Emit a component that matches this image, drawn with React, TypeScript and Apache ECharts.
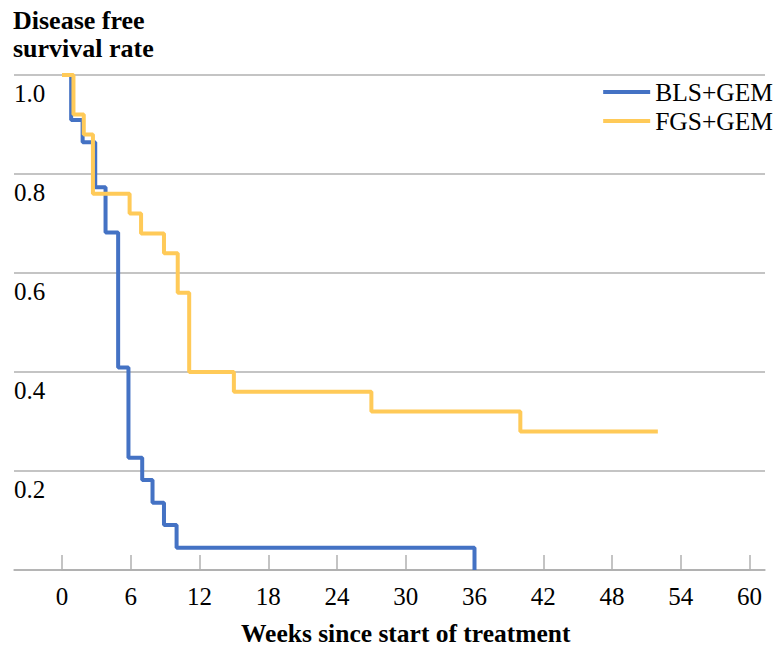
import React, { useEffect, useRef } from "react";
import * as echarts from "echarts";

const blsWeeks = [0, 0.8, 1.8, 2.9, 3.8, 4.9, 5.8, 7, 7.9, 8.9, 10, 36];
const blsSurvival = [1, 0.909, 0.864, 0.773, 0.682, 0.409, 0.227, 0.182, 0.136, 0.091, 0.045, 0];
const fgsWeeks = [0, 1, 1.9, 2.7, 5.9, 6.9, 8.9, 10.1, 11.1, 15, 27, 40, 52];
const fgsSurvival = [1, 0.92, 0.88, 0.76, 0.72, 0.68, 0.64, 0.56, 0.4, 0.36, 0.32, 0.28, 0.28];
const seriesNames = ["BLS+GEM", "FGS+GEM"];
const seriesColors = ["#4472C4", "#FFCA58"];
const yTicks = [0, 0.2, 0.4, 0.6, 0.8, 1.0];

const FONT = "'Liberation Serif', 'Times New Roman', serif";
const GRID_COLOR = "#b0b0b0";

export default function App() {
  const ref = useRef<HTMLDivElement>(null);
  useEffect(() => {
    if (!ref.current) return;
    const chart = echarts.init(ref.current, undefined, { renderer: "svg" });
    const toPairs = (xs: number[], ys: number[]) => xs.map((x, i) => [x, ys[i]]);
    chart.setOption({
      animation: false,
      backgroundColor: "#ffffff",
      textStyle: { fontFamily: FONT },
      title: {
        text: "Disease free\nsurvival rate",
        left: 13,
        top: 6,
        padding: 0,
        textStyle: {
          fontFamily: FONT,
          fontWeight: "bold",
          fontSize: 26,
          lineHeight: 28,
          color: "#000",
        },
      },
      legend: {
        orient: "vertical",
        right: 8,
        top: 79,
        itemGap: 3,
        itemWidth: 47,
        itemHeight: 4,
        icon: "rect",
        padding: 0,
        data: seriesNames,
        textStyle: { fontFamily: FONT, fontSize: 25.5, lineHeight: 25, color: "#000" },
      },
      grid: [
        { left: 14, right: 16, top: 75, bottom: 78, outerBoundsMode: "none", containLabel: false },
        { left: 62, right: 31.5, top: 75, bottom: 78, outerBoundsMode: "none", containLabel: false },
      ],
      xAxis: [
        {
          gridIndex: 0,
          type: "value",
          min: 0,
          max: 1,
          axisLine: { show: true, lineStyle: { color: GRID_COLOR, width: 1.5 } },
          axisTick: { show: false },
          axisLabel: { show: false },
          splitLine: { show: false },
        },
        {
          gridIndex: 1,
          type: "value",
          min: 0,
          max: 60,
          interval: 6,
          axisLine: { show: true, lineStyle: { color: GRID_COLOR, width: 1.5 } },
          axisTick: { show: true, inside: true, length: 15, lineStyle: { color: GRID_COLOR, width: 1.5 } },
          axisLabel: { fontFamily: FONT, fontSize: 25, color: "#000", margin: 14 },
          splitLine: { show: false },
          name: "Weeks since start of treatment",
          nameLocation: "middle",
          nameGap: 50,
          nameTextStyle: { fontFamily: FONT, fontSize: 25.5, lineHeight: 26, fontWeight: "bold", color: "#000" },
        },
      ],
      yAxis: [
        {
          gridIndex: 0,
          type: "value",
          min: 0,
          max: 1,
          interval: 0.2,
          axisLine: { show: false },
          axisTick: { show: false },
          splitLine: { show: true, lineStyle: { color: GRID_COLOR, width: 1.5 } },
          axisLabel: {
            inside: true,
            margin: 0,
            fontFamily: FONT,
            fontSize: 25,
            lineHeight: 25,
            color: "#000",
            verticalAlign: "top",
            padding: [6, 0, 0, 0],
            formatter: (v: number) => {
              const t = yTicks.find((y) => Math.abs(y - v) < 1e-6);
              return t === undefined || t === 0 ? "" : t.toFixed(1);
            },
          },
        },
        {
          gridIndex: 1,
          type: "value",
          min: 0,
          max: 1,
          show: false,
        },
      ],
      series: [
        {
          name: seriesNames[0],
          type: "line",
          xAxisIndex: 1,
          yAxisIndex: 1,
          step: "end",
          symbol: "none",
          clip: false,
          color: seriesColors[0],
          lineStyle: { width: 4, color: seriesColors[0] },
          data: toPairs(blsWeeks, blsSurvival),
        },
        {
          name: seriesNames[1],
          type: "line",
          xAxisIndex: 1,
          yAxisIndex: 1,
          step: "end",
          symbol: "none",
          clip: false,
          color: seriesColors[1],
          lineStyle: { width: 4, color: seriesColors[1] },
          data: toPairs(fgsWeeks, fgsSurvival),
        },
      ],
    });
    return () => chart.dispose();
  }, []);
  return <div ref={ref} style={{ width: 781, height: 648, position: "absolute", left: 0, top: 0 }} />;
}
